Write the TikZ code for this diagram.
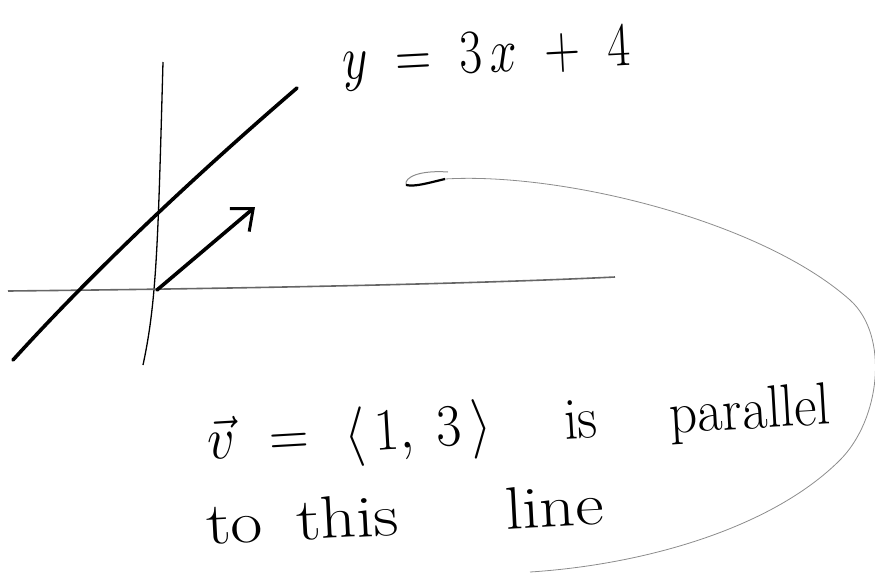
\documentclass[tikz,border=0pt]{standalone}
\usetikzlibrary{arrows.meta, positioning}
\tikzstyle{axis} = [draw=black!60, line width=1.6pt]
\tikzstyle{graph} = [draw, line width=3.6pt, line cap=round]
\tikzstyle{loop} = [draw=black!45, line width=0.8pt]
\tikzstyle{note} = [inner sep=0pt, anchor=base west]
\newcommand{\hugetext}[3]{\scalebox{#1}[#2]{\Huge #3}}

\begin{document}
\begin{tikzpicture}[x=1pt, y=-1pt, >=Stealth]
\useasboundingbox (0,0) rectangle (875,576);

% axes and the line
\coordinate (origin) at (157,290);
\coordinate (ytop) at (163,62);
\coordinate (ybot) at (143,365);
\coordinate (xleft) at (8,291);
\coordinate (xright) at (615,277);
\coordinate (lstart) at (13,360);
\coordinate (lend) at (297,88);
\coordinate (vtip) at (255,207);

\draw [axis, draw=black, line width=1.3pt] (ytop) .. controls (158,240) and (157,300) .. (ybot);
\draw [axis] (xleft) .. controls (200,289) and (450,285) .. (xright);
\draw [graph] (lstart) .. controls (90,275) and (190,180) .. (lend);
\draw [graph, -{Straight Barb[length=18pt, width=30pt, line width=3pt]}] (origin) -- (vtip);

% labels
\node [note, rotate=3] (eqn) at (343,80)
  {\hugetext{2}{2.5}{$y\hspace{7pt}=\hspace{7pt}3\hspace{4pt}x\hspace{8pt}+\hspace{8pt}4$}};
\node [note, rotate=3.3] (vec) at (208,460)
  {\hugetext{2.2}{2.4}{$\vec{v}\hspace{9pt}=\hspace{9pt}\langle\hspace{4pt}1,\hspace{6pt}3\hspace{4pt}\rangle$\hspace{33pt}is\hspace{33pt}parallel}};
\node [note, rotate=3] (this) at (207,545)
  {\hugetext{2.8}{2.4}{to\hspace{12pt}this\hspace{38pt}line}};

% loop round the note
\coordinate (hook) at (406,185);
\coordinate (tail) at (530,572);
\draw [loop, line width=1pt] (448,172) .. controls (420,170) and (404,177) .. (hook);
\draw [loop, draw=black, line width=2.2pt] (hook) .. controls (415,187) and (428,183) .. (445,179);
\draw [loop] (445,179) .. controls (560,172) and (760,220) .. (850,300)
  .. controls (890,336) and (880,420) .. (840,460)
  .. controls (770,530) and (640,565) .. (tail);

\end{tikzpicture}
\end{document}
